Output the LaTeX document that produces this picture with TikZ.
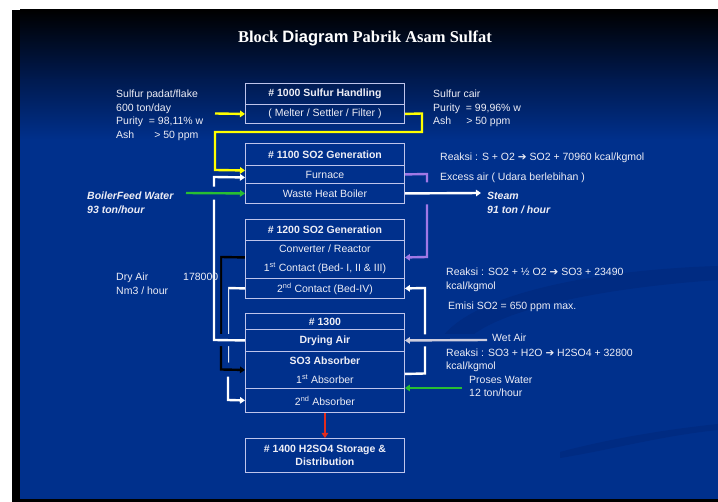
\documentclass[tikz,border=0pt]{standalone}
\usepackage{fontspec}
\setmainfont{Liberation Sans}
\newfontfamily\titleserif{Liberation Serif}
\newfontfamily\symfont{DejaVu Sans}
\newcommand{\rarr}{{\symfont\fontsize{10.5}{11}\selectfont ➔}}
\usetikzlibrary{arrows.meta}
\pgfdeclarelayer{bg}
\pgfdeclarelayer{conn}
\pgfsetlayers{bg,conn,main}
\definecolor{bodyblue}{RGB}{0,48,140}
\definecolor{navy}{RGB}{0,26,80}
\definecolor{swooshc}{RGB}{0,43,130}
\definecolor{boxc}{RGB}{190,196,235}
\definecolor{txt}{RGB}{238,238,246}
\definecolor{yel}{RGB}{255,255,0}
\definecolor{grn}{RGB}{40,190,50}
\definecolor{pur}{RGB}{160,120,230}
\definecolor{redc}{RGB}{225,45,30}
\definecolor{wetc}{RGB}{205,205,222}
\begin{document}
\begin{tikzpicture}[x=1pt,y=-1pt,
  txtfont/.style={font=\fontsize{10.5}{12}\selectfont},
  bffont/.style={font=\fontsize{10.5}{12}\selectfont\bfseries},
  row/.style={draw=boxc, line width=0.9pt, minimum width=159pt, inner sep=0pt,
              anchor=north west, text=txt, txtfont},
  lbl/.style={anchor=west, inner sep=0pt, text=txt, txtfont, text height=7.5pt, text depth=2pt},
  conn/.style={line width=2.4pt, -{Triangle[length=5pt,width=6.5pt]}},
  cutgap/.style={preaction={draw=bodyblue, line width=#1, -}},
  cutgap/.default=12pt
]
\useasboundingbox (0,0) rectangle (718,502);

% ---------- background ----------
\begin{pgfonlayer}{bg}
\fill[white] (0,0) rectangle (718,502);
\fill[black] (12,10) rectangle (718,502);
\fill[bodyblue] (20,10) rectangle (718,499);
\shade[top color=black, bottom color=navy] (20,10) rectangle (718,80);
\shade[top color=navy, bottom color=bodyblue] (20,79.5) rectangle (718,140);
\fill[swooshc] (440,340) .. controls (470,295) and (590,270) .. (718,266)
   -- (718,280) .. controls (600,288) and (490,310) .. (462,345) -- cycle;
\fill[swooshc] (560,452) .. controls (620,436) and (680,428) .. (718,424)
   -- (718,430) .. controls (660,436) and (610,450) .. (560,458) -- cycle;
\end{pgfonlayer}

% ---------- title ----------
\node[text=white, inner sep=0pt] (title) at (365,38)
  {\fontsize{16.5}{18}\selectfont\bfseries\titleserif Block {\fontspec{Liberation Sans}Diagram} Pabrik Asam Sulfat};

% ---------- boxes ----------
\node[row, bffont, minimum height=21pt] (h1000) at (245,83) {\# 1000 Sulfur Handling};
\node[row, minimum height=19pt] (melter) at (245,104) {( Melter / Settler / Filter )};

\node[row, bffont, minimum height=22pt] (h1100) at (245,143) {\# 1100 SO2 Generation};
\node[row, minimum height=18pt] (furnace) at (245,165) {Furnace};
\node[row, minimum height=20pt] (whb) at (245,183) {Waste Heat Boiler};

\node[row, bffont, minimum height=21pt] (h1200) at (245,219) {\# 1200 SO2 Generation};
\node[row, minimum height=38pt, align=center, font=\fontsize{10.5}{19.5}\selectfont] (conv) at (245,240)
  {Converter / Reactor\\1\textsuperscript{st} Contact (Bed- I, II \& III)};
\node[row, minimum height=20pt] (contact2) at (245,278) {2\textsuperscript{nd} Contact (Bed-IV)};

\node[row, bffont, minimum height=16pt] (h1300) at (245,313) {\# 1300};
\node[row, bffont, minimum height=22pt] (drying) at (245,329) {Drying Air};
\node[row, minimum height=37pt, align=center, font=\fontsize{10.5}{19}\selectfont] (so3) at (245,351)
  {\textbf{SO3 Absorber}\\1\textsuperscript{st} Absorber};
\node[row, minimum height=24pt] (abs2) at (245,388) {2\textsuperscript{nd} Absorber};

\node[row, minimum height=34pt, align=center, font=\fontsize{10.5}{13}\selectfont\bfseries] (h1400) at (245,438)
  {\# 1400 H2SO4 Storage \&\\Distribution};

% ---------- labels ----------
\node[lbl] (sp1) at (116,95) {Sulfur padat/flake};
\node[lbl] (sp2) at (116,108.5) {600 ton/day};
\node[lbl] (sp3) at (116,122) {Purity\ \ = 98,11\% w};
\node[lbl] (sp4) at (116,135.5) {Ash\hspace{20pt}> 50 ppm};

\node[lbl] (sc1) at (433,95) {Sulfur cair};
\node[lbl] (sc2) at (433,108.5) {Purity\ \ = 99,96\% w};
\node[lbl] (sc3) at (433,121.5) {Ash\hspace{15pt}> 50 ppm};

\node[lbl] (r1) at (440,158) {Reaksi : S + O2 \rarr{} SO2 + 70960 kcal/kgmol};
\node[lbl] (ex) at (440,178) {Excess air ( Udara berlebihan )};

\node[lbl, font=\fontsize{10.5}{12}\selectfont\bfseries\itshape] (st1) at (487,197) {Steam};
\node[lbl, font=\fontsize{10.5}{12}\selectfont\bfseries\itshape] (st2) at (487,210.5) {91 ton / hour};

\node[lbl, font=\fontsize{10.5}{12}\selectfont\bfseries\itshape] (bf1) at (87,197) {BoilerFeed Water};
\node[lbl, font=\fontsize{10.5}{12}\selectfont\bfseries\itshape] (bf2) at (87,210.5) {93 ton/hour};

\node[lbl] (da1) at (116,278) {Dry Air};
\node[lbl] (da2) at (183,278) {178000};
\node[lbl] (da3) at (116,291.5) {Nm3 / hour};

\node[lbl] (r2a) at (446,273) {Reaksi : SO2 + ½ O2 \rarr{} SO3 + 23490};
\node[lbl] (r2b) at (446,286.5) {kcal/kgmol};
\node[lbl] (em) at (448,307) {Emisi SO2 = 650 ppm max.};
\node[lbl] (wet) at (492,338.5) {Wet Air};
\node[lbl] (r3a) at (446,354) {Reaksi : SO3 + H2O \rarr{} H2SO4 + 32800};
\node[lbl] (r3b) at (446,367) {kcal/kgmol};
\node[lbl] (pw1) at (469,381) {Proses Water};
\node[lbl] (pw2) at (469,394) {12 ton/hour};

% ---------- connector end points ----------
\coordinate (sfin) at (215,113.5);
\coordinate (bfwin) at (186,193);
\coordinate (steamout) at (481,193);
\coordinate (wetin) at (487,340);
\coordinate (pwin) at (462,388);

% ---------- connectors ----------
\begin{pgfonlayer}{conn}
% left side
\draw[conn, white] (contact2.west) -- (228,288) -- (228,400) -- (abs2.west);
\draw[conn, black, cutgap=14pt] ([yshift=2pt]conv.west) -- (221,257) -- (221,369.5) -- (so3.west);
\draw[conn, white, cutgap=12pt] (drying.west) -- (214,340) -- (214,177) -- ([yshift=-3pt]furnace.west);
\draw[conn, yel] (melter.east) -- (422,113.5) -- (422,132) -- (215,132) -- (215,170) -- ([yshift=4pt]furnace.west);
\draw[conn, yel] (sfin) -- (melter.west);
\draw[conn, grn, cutgap=13pt] (bfwin) -- (whb.west);
% right side
\draw[conn, pur] (furnace.east) -- (427,174) -- (427,257) -- ([yshift=2pt]conv.east);
\draw[conn, white, cutgap=22pt] (whb.east) -- (steamout);
\draw[conn, white] ([yshift=-4pt]so3.east) -- (425,373.5) -- (425,288) -- (contact2.east);
\draw[conn, wetc, cutgap=12pt] (wetin) -- (drying.east);
\draw[conn, grn] (pwin) -- (abs2.north east);
% bottom
\draw[conn, redc] (abs2.south) -- (h1400.north);
\end{pgfonlayer}
\end{tikzpicture}
\end{document}
